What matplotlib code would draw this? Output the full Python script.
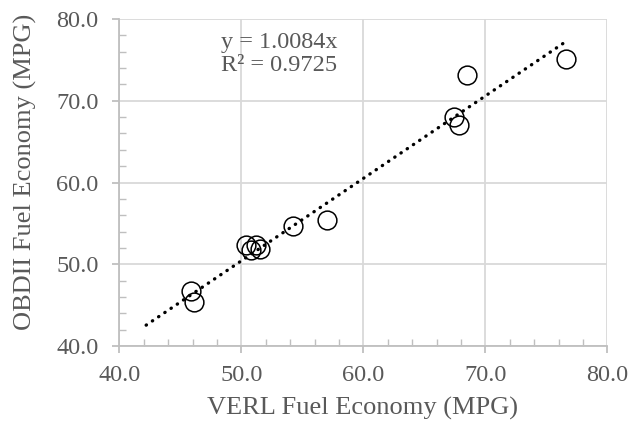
import matplotlib.pyplot as plt
import numpy as np

verl = [45.9, 46.1, 50.4, 50.8, 51.2, 51.5, 54.2, 57.0, 67.4, 67.8, 68.5, 76.6]
obd = [46.7, 45.4, 52.4, 51.7, 52.3, 51.9, 54.7, 55.4, 68.0, 67.0, 73.2, 75.1]
slope = 1.0084
r2 = 0.9725
trend_x = [42.2, 76.6]

plt.rcParams['font.family'] = 'Liberation Serif'

fig = plt.figure(figsize=(6.34, 4.30), dpi=100)
ax = fig.add_axes([0.1882, 0.1953, 0.7698, 0.7605])

tx = np.array(trend_x)
ax.plot(tx, slope * tx, color='black', lw=2.4, linestyle=(0, (0.1, 2.15)),
        dash_capstyle='round', zorder=3)
ax.plot(verl, obd, 'o', mfc='none', mec='black', mew=1.1, ms=13.5, zorder=4)

ax.set_xlim(40, 80)
ax.set_ylim(40, 80)
ax.set_xticks(np.arange(40, 81, 10))
ax.set_yticks(np.arange(40, 81, 10))
ax.set_xticks(np.arange(40, 81, 2), minor=True)
ax.set_yticks(np.arange(40, 81, 2), minor=True)
ax.xaxis.set_major_formatter(lambda v, p: f'{v:.1f}')
ax.yaxis.set_major_formatter(lambda v, p: f'{v:.1f}')

ax.grid(True, which='major', color='#d9d9d9', lw=1.3)
ax.set_axisbelow(True)
for s in ['top', 'right']:
    ax.spines[s].set_visible(False)
for s in ['left', 'bottom']:
    ax.spines[s].set_color('#bfbfbf')
    ax.spines[s].set_linewidth(1.3)

ax.tick_params(which='major', direction='out', length=5, width=1.3, color='#bfbfbf',
               labelsize=17.5, labelcolor='#595959')
ax.tick_params(axis='x', which='major', pad=9)
ax.tick_params(axis='y', which='major', pad=10)
ax.tick_params(which='minor', direction='in', length=5, width=1.0, color='#bfbfbf')

ax.set_xlabel('VERL Fuel Economy (MPG)', fontsize=19, color='#595959')
ax.set_ylabel('OBDII Fuel Economy (MPG)', fontsize=19, color='#595959')
ax.xaxis.set_label_coords(0.498, -0.155)
ax.yaxis.set_label_coords(-0.168, 0.532)

ax.text(53.1, 75.7, f'y = {slope:.4f}x\nR² = {r2:.4f}', ha='center', va='center',
        fontsize=17.5, color='#595959', linespacing=1.15)

fig.savefig('out.png', dpi=100)
